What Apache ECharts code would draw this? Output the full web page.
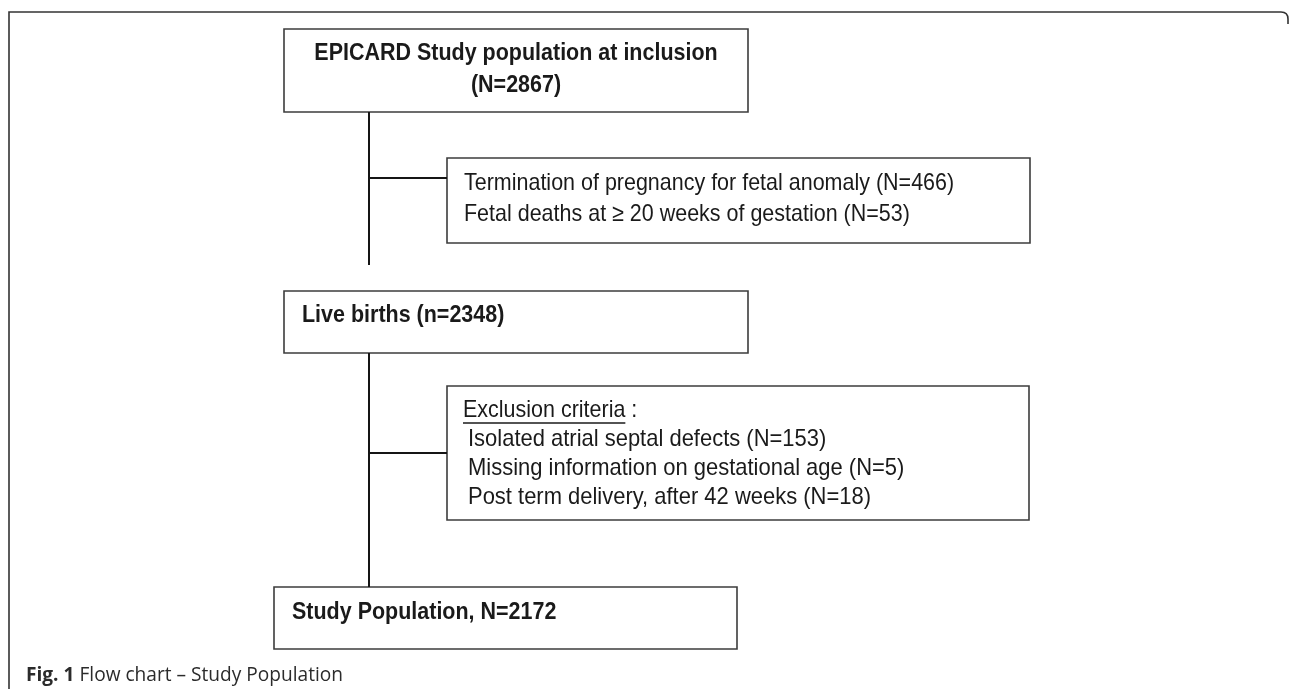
<!DOCTYPE html>
<html><head><meta charset="utf-8">
<script src="https://cdn.jsdelivr.net/npm/echarts@6/dist/echarts.min.js"></script>
<style>html,body{margin:0;padding:0;background:#fff}#c{width:1290px;height:689px}</style>
</head><body><div id="c"></div>
<script>
// ---- data ----
const stageNames = ['EPICARD Study population at inclusion', 'Live births', 'Study Population'];
const stageCounts = [2867, 2348, 2172];
const removedReasons = ['Termination of pregnancy for fetal anomaly', 'Fetal deaths at \u2265 20 weeks of gestation'];
const removedCounts = [466, 53];
const exclusionTitle = 'Exclusion criteria';
const exclusionReasons = ['Isolated atrial septal defects', 'Missing information on gestational age', 'Post term delivery, after 42 weeks'];
const exclusionCounts = [153, 5, 18];
const captionLabel = 'Fig. 1';
const captionText = 'Flow chart \u2013 Study Population';

// ---- layout (chart units = pixels of the reference) ----
const FONT = 'Liberation Sans';
const FS = 24, SX = 0.895;
const TXT = '#1a1a1a', BOX = '#3c3c3c', CON = '#151515';
const boxes = [
  {x0:284, y0:29,  x1:748,  y1:112},
  {x0:447, y0:158, x1:1030, y1:243},
  {x0:284, y0:291, x1:748,  y1:353},
  {x0:447, y0:386, x1:1029, y1:520},
  {x0:274, y0:587, x1:737,  y1:649}
];
const connectors = [
  [369,112,369,265],[369,178,447,178],
  [369,353,369,587],[369,453,447,453]
];

const cvs = document.createElement('canvas').getContext('2d');
function measure(t, weight, size, fam){ cvs.font = weight + ' ' + size + 'px "' + fam + '"'; return cvs.measureText(t).width; }

const shapes = [];
// frame
shapes.push({kind:'path', pts:[[9,689],[9,12],[1281,12]], arc:[[1288,12],[1288,19],[1288,24]]});
boxes.forEach(b => shapes.push({kind:'rect', b}));
connectors.forEach(c => shapes.push({kind:'line', c, color:CON, lw:2}));
// texts
shapes.push({kind:'text', x:516, y:53, t:stageNames[0], bold:true, align:'center'});
shapes.push({kind:'text', x:516, y:85, t:'(N=' + stageCounts[0] + ')', bold:true, align:'center'});
removedReasons.forEach((r,i) => shapes.push({kind:'text', x:464, y:183 + i*31, t:r + ' (N=' + removedCounts[i] + ')'}));
shapes.push({kind:'text', x:302, y:315, t:stageNames[1] + ' (n=' + stageCounts[1] + ')', bold:true});
shapes.push({kind:'text', x:463, y:410, t:exclusionTitle + ' :'});
const ulw = measure(exclusionTitle, 'normal', FS, FONT) * SX;
shapes.push({kind:'line', c:[463,423,463+ulw,423], color:TXT, lw:1.3});
exclusionReasons.forEach((r,i) => shapes.push({kind:'text', x:468, y:439 + i*29.3, sx:0.915, t:r + ' (N=' + exclusionCounts[i] + ')'}));
shapes.push({kind:'text', x:292, y:612, t:stageNames[2] + ', N=' + stageCounts[2], bold:true});
// caption
const capFS = 19.5, capFont = 'Open Sans';
const capW = measure(captionLabel, 'bold', capFS, capFont) + measure(' ' + captionText, 'normal', capFS, capFont);
shapes.push({kind:'caption', x:26, y:675, sx: 317 / capW, fs:capFS});

function renderItem(params, api){
  const s = shapes[params.dataIndex];
  const P = (x,y) => api.coord([x,y]);
  if (s.kind === 'rect'){
    const a = P(s.b.x0, s.b.y0), b = P(s.b.x1, s.b.y1);
    return {type:'rect', shape:{x:a[0], y:a[1], width:b[0]-a[0], height:b[1]-a[1]},
      style:{fill:'#fff', stroke:BOX, lineWidth:1.6}};
  }
  if (s.kind === 'line'){
    const a = P(s.c[0], s.c[1]), b = P(s.c[2], s.c[3]);
    return {type:'line', shape:{x1:a[0], y1:a[1], x2:b[0], y2:b[1]}, style:{stroke:s.color, lineWidth:s.lw}};
  }
  if (s.kind === 'path'){
    const pts = s.pts.map(p => P(p[0], p[1]));
    const q = s.arc.map(p => P(p[0], p[1]));
    let d = 'M' + pts.map(p => p[0] + ' ' + p[1]).join(' L');
    d += ' Q' + q[0][0] + ' ' + q[0][1] + ' ' + q[1][0] + ' ' + q[1][1] + ' L' + q[2][0] + ' ' + q[2][1];
    return {type:'path', shape:{pathData:d}, style:{fill:null, stroke:'#333', lineWidth:1.6}};
  }
  if (s.kind === 'text'){
    const p = P(s.x, s.y);
    return {type:'text', x:p[0], y:p[1], scaleX:s.sx || SX,
      style:{text:s.t, fontFamily:FONT, fontSize:FS, fontWeight:s.bold ? 'bold' : 'normal', fill:TXT,
        align:s.align || 'left', verticalAlign:'middle', textAlign:s.align || 'left', textVerticalAlign:'middle'}};
  }
  if (s.kind === 'caption'){
    const p = P(s.x, s.y);
    return {type:'text', x:p[0], y:p[1], scaleX:s.sx,
      style:{text:'{b|' + captionLabel + '} ' + captionText, fontFamily:capFont, fontSize:s.fs, fill:'#2b2b2b',
        rich:{b:{fontFamily:capFont, fontSize:s.fs, fontWeight:'bold', fill:'#2b2b2b'}},
        align:'left', verticalAlign:'middle', textAlign:'left', textVerticalAlign:'middle'}};
  }
}

const chart = echarts.init(document.getElementById('c'), null, {renderer:'canvas'});
chart.setOption({
  animation:false,
  backgroundColor:'#fff',
  grid:{left:0, right:0, top:0, bottom:0},
  xAxis:{type:'value', min:0, max:1290, show:false},
  yAxis:{type:'value', min:0, max:689, inverse:true, show:false},
  series:[{type:'custom', clip:false, silent:true, renderItem,
    data: shapes.map((s,i) => [i, 0])}]
});
</script></body></html>
